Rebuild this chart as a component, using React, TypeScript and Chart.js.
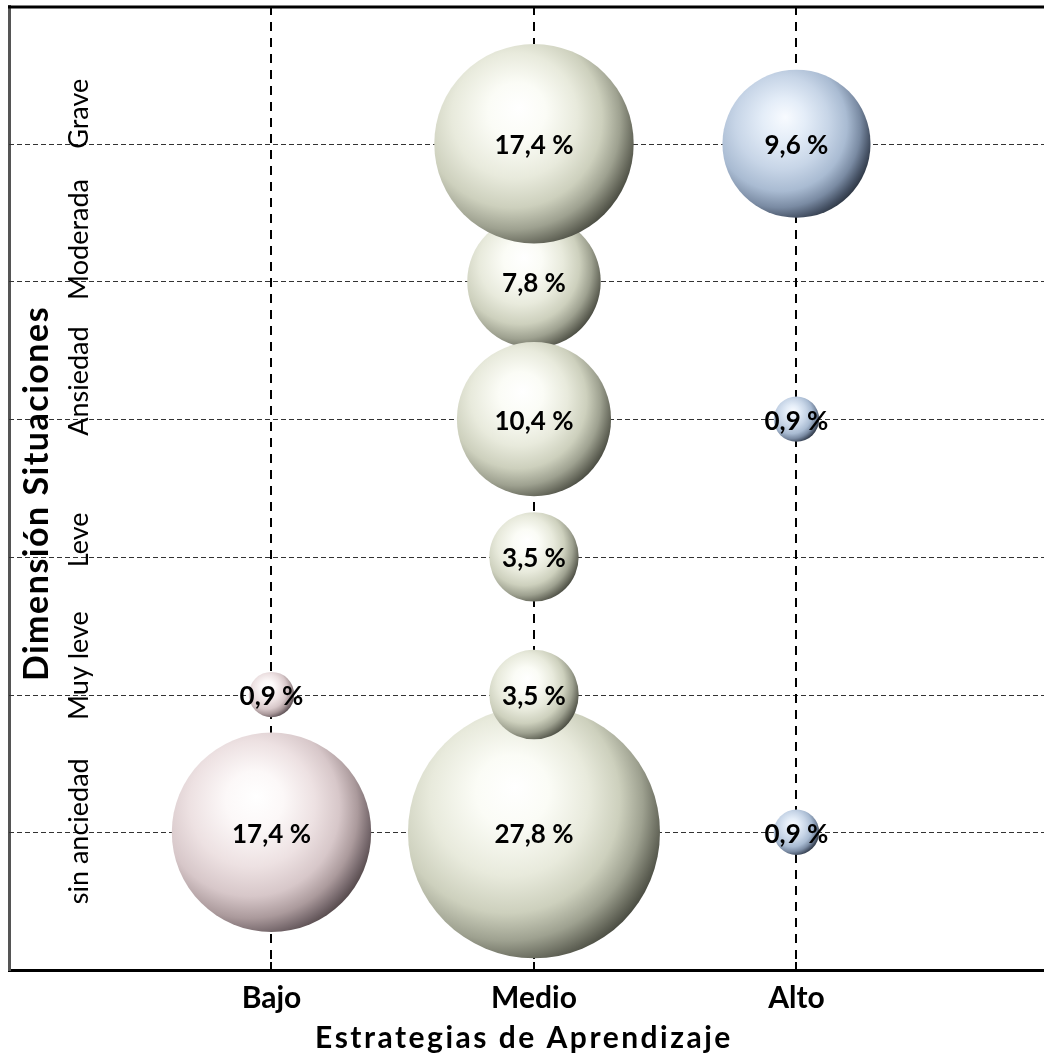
import { useEffect, useRef } from 'react';
import { Chart, registerables } from 'chart.js';

Chart.register(...registerables);

// Learning-strategy levels (x axis)
const levels = ['Bajo', 'Medio', 'Alto'];
// Anxiety levels in the "situaciones" dimension (y axis, bottom to top)
const anxietyLabels = ['sin anciedad', 'Muy leve', 'Leve', 'Ansiedad', 'Moderada', 'Grave'];

// Percentages per strategy level; *Y holds the 1-based anxiety level of each bubble
const bajoY = [2, 1];
const bajoPct = [0.9, 17.4];
const medioY = [5, 1, 2, 3, 4, 6];
const medioPct = [7.8, 27.8, 3.5, 3.5, 10.4, 17.4];
const altoY = [6, 4, 1];
const altoPct = [9.6, 0.9, 0.9];

const xTitle = 'Estrategias de Aprendizaje';
const yTitle = 'Dimensión Situaciones';

// bubble area proportional to the percentage
const RADIUS_PER_SQRT_PCT = 23.9;

// sphere shading stops: highlight -> body -> shadow
const stopsAt = [0, 0.22, 0.48, 0.68, 0.83, 0.94, 1];
const palettes = [
  ['#ffffff', '#fcf8f8', '#ede1e2', '#d7c7c9', '#ab9a9c', '#74666a', '#564a4c'],
  ['#ffffff', '#fbfcf6', '#e8eadc', '#cdd0bd', '#9ea190', '#686a5d', '#4a4c42'],
  ['#f8fbff', '#e4edf8', '#c7d5e7', '#a9bbd2', '#7a8ba3', '#465265', '#2e3744'],
];

// vertical nudge of each rotated category label relative to its grid line
const yLabelShift = [1, 29, 17, 38, 42, 30];

const FONT = 'Lato, "Open Sans", sans-serif';

const fmt = (v: number) => v.toFixed(1).replace('.', ',') + ' %';

function sphere(palette: string[]) {
  return (ctx: any) => {
    const chart = ctx.chart;
    const raw = ctx.raw;
    const xs = chart.scales.x;
    const ys = chart.scales.y;
    if (!raw || !xs || !ys) return palette[3];
    const cx = xs.getPixelForValue(raw.x);
    const cy = ys.getPixelForValue(raw.y);
    const r = raw.r;
    if (!isFinite(cx) || !isFinite(cy) || !r) return palette[3];
    const ox = -0.24;
    const oy = -0.2;
    const g = chart.ctx.createRadialGradient(
      cx - 0.15 * r, cy - 0.36 * r, 0,
      cx + ox * r, cy + oy * r, (1 + Math.hypot(ox, oy)) * r
    );
    palette.forEach((c, i) => g.addColorStop(stopsAt[i], c));
    return g;
  };
}

function points(ys: number[], pcts: number[], xVal: number) {
  return ys.map((y, i) => ({ x: xVal, y, r: RADIUS_PER_SQRT_PCT * Math.sqrt(pcts[i]), v: pcts[i] }));
}

const decorPlugin = {
  id: 'decor',
  beforeDatasetsDraw(chart: any) {
    const { ctx, chartArea: a, scales } = chart;
    const xs = scales.x;
    const ys = scales.y;
    ctx.save();
    // horizontal dashed grid lines
    ctx.strokeStyle = '#333';
    ctx.lineWidth = 1;
    ctx.setLineDash([5, 3]);
    anxietyLabels.forEach((_, i) => {
      const py = Math.round(ys.getPixelForValue(i + 1)) + 0.5;
      ctx.beginPath();
      ctx.moveTo(a.left, py);
      ctx.lineTo(a.right, py);
      ctx.stroke();
    });
    // vertical dashed grid lines
    ctx.strokeStyle = '#000';
    ctx.lineWidth = 2;
    ctx.setLineDash([9, 7]);
    levels.forEach((_, i) => {
      const px = Math.round(xs.getPixelForValue(i + 1));
      ctx.beginPath();
      ctx.moveTo(px, a.top);
      ctx.lineTo(px, a.bottom);
      ctx.stroke();
    });
    ctx.setLineDash([]);
    // top frame line
    ctx.lineWidth = 3;
    ctx.beginPath();
    ctx.moveTo(a.left - 1, a.top + 1);
    ctx.lineTo(a.right, a.top + 1);
    ctx.stroke();

    // rotated anxiety labels inside the plot
    ctx.fillStyle = '#000';
    ctx.font = `27px ${FONT}`;
    ctx.textAlign = 'center';
    ctx.textBaseline = 'alphabetic';
    anxietyLabels.forEach((label, i) => {
      const py = ys.getPixelForValue(i + 1) - yLabelShift[i];
      ctx.save();
      ctx.translate(a.left + 79, py);
      ctx.rotate(-Math.PI / 2);
      ctx.fillText(label, 0, 0);
      ctx.restore();
    });

    // y axis title
    ctx.font = `bold 34px ${FONT}`;
    ctx.save();
    (ctx as any).letterSpacing = '1.5px';
    ctx.translate(a.left + 39, ys.getPixelForValue(3.46));
    ctx.rotate(-Math.PI / 2);
    ctx.fillText(yTitle, 0, 0);
    ctx.restore();

    // x category labels and title
    ctx.font = `bold 30px ${FONT}`;
    levels.forEach((label, i) => {
      ctx.fillText(label, xs.getPixelForValue(i + 1), a.bottom + 38);
    });
    ctx.save();
    (ctx as any).letterSpacing = '2.5px';
    ctx.fillText(xTitle, xs.getPixelForValue(2) - 10, a.bottom + 78);
    ctx.restore();

    // small inner tick marks on the x axis
    ctx.lineWidth = 2;
    levels.forEach((_, i) => {
      const px = Math.round(xs.getPixelForValue(i + 1));
      ctx.beginPath();
      ctx.moveTo(px, a.bottom - 8);
      ctx.lineTo(px, a.bottom);
      ctx.stroke();
    });
    ctx.restore();
  },
  afterDatasetsDraw(chart: any) {
    const { ctx } = chart;
    ctx.save();
    ctx.fillStyle = '#000';
    ctx.font = `bold 26px ${FONT}`;
    ctx.textAlign = 'center';
    ctx.textBaseline = 'middle';
    chart.data.datasets.forEach((ds: any, di: number) => {
      const meta = chart.getDatasetMeta(di);
      meta.data.forEach((el: any, j: number) => {
        ctx.fillText(fmt(ds.data[j].v), el.x, el.y + 2);
      });
    });
    ctx.restore();
  },
};

export default function App() {
  const ref = useRef<HTMLCanvasElement | null>(null);

  useEffect(() => {
    const canvas = ref.current;
    if (!canvas) return;
    const series = [
      { y: bajoY, p: bajoPct },
      { y: medioY, p: medioPct },
      { y: altoY, p: altoPct },
    ];
    const chart = new Chart(canvas, {
      type: 'bubble',
      data: {
        datasets: series.map((s, i) => ({
          label: levels[i],
          data: points(s.y, s.p, i + 1),
          backgroundColor: sphere(palettes[i]),
          borderWidth: 0,
          hoverBorderWidth: 0,
          clip: false as any,
        })),
      },
      options: {
        responsive: false,
        animation: false,
        events: [],
        layout: { autoPadding: false, padding: { top: 6, left: 9, right: 0, bottom: 85 } },
        plugins: { legend: { display: false }, tooltip: { enabled: false } },
        scales: {
          x: {
            type: 'linear',
            min: 0,
            max: 3.943,
            ticks: { display: false },
            grid: { display: false, drawTicks: false },
            border: { display: true, color: '#000', width: 3 },
          },
          y: {
            type: 'linear',
            min: 0,
            max: 7,
            ticks: { display: false },
            grid: { display: false, drawTicks: false },
            border: { display: true, color: '#555', width: 3 },
          },
        },
      },
      plugins: [decorPlugin],
    } as any);

    const fonts = (document as any).fonts;
    if (fonts && fonts.load) {
      Promise.all([
        fonts.load(`27px Lato`),
        fonts.load(`bold 28px Lato`),
      ]).then(() => chart.draw()).catch(() => {});
    }
    return () => chart.destroy();
  }, []);

  return (
    <div style={{ position: 'absolute', left: 0, top: 0, width: 1044, height: 1055, background: '#fff' }}>
      <canvas ref={ref} width={1044} height={1055} style={{ display: 'block' }} />
    </div>
  );
}
